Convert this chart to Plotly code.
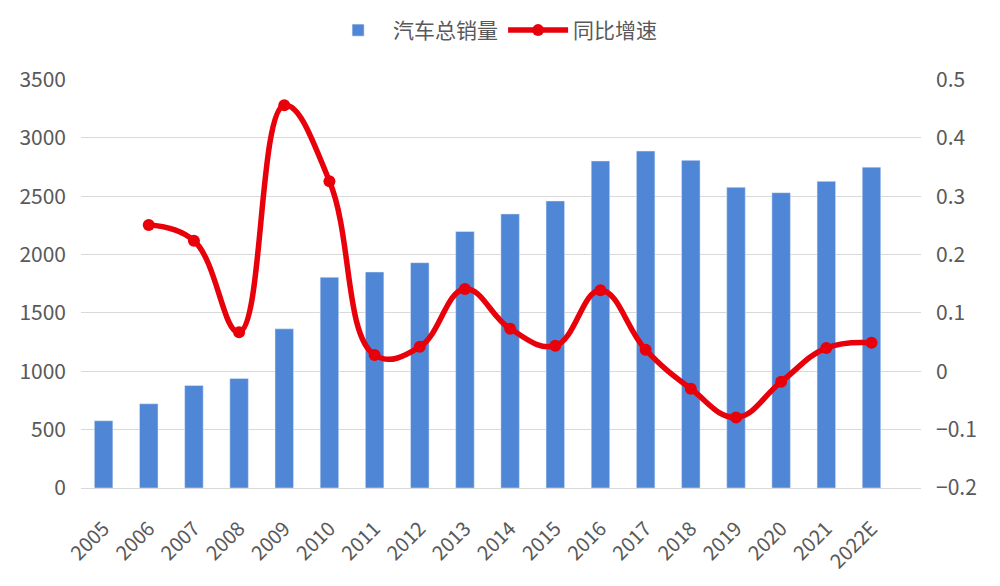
import plotly.graph_objects as go

years = ["2005", "2006", "2007", "2008", "2009", "2010", "2011", "2012", "2013",
         "2014", "2015", "2016", "2017", "2018", "2019", "2020", "2021", "2022E"]
sales = [576, 722, 879, 938, 1364, 1806, 1851, 1931, 2198, 2349, 2460, 2803, 2888,
         2808, 2577, 2531, 2628, 2750]
growth_years = years[1:]
growth = [0.251, 0.224, 0.067, 0.456, 0.326, 0.028, 0.042, 0.141, 0.073, 0.044,
          0.139, 0.037, -0.030, -0.079, -0.018, 0.040, 0.049]

font_family = "Noto Sans CJK SC, Open Sans, sans-serif"
grey = "#595959"

fig = go.Figure()
fig.add_trace(go.Bar(x=years, y=sales, name="汽车总销量", marker_color="#4F87D6",
                     width=0.41))
fig.add_trace(go.Scatter(x=growth_years, y=growth, name="同比增速", yaxis="y2",
                         mode="lines+markers",
                         line=dict(color="#E8000B", width=5.5, shape="spline", smoothing=1.2),
                         marker=dict(size=12, color="#E8000B")))

fig.update_layout(
    width=1000, height=586,
    margin=dict(l=81, r=79, t=78, b=97),
    paper_bgcolor="white", plot_bgcolor="white",
    font=dict(family=font_family, color=grey, size=21),
    legend=dict(orientation="h", x=0.49, xanchor="center", y=0.948, yanchor="middle",
                yref="container", font=dict(size=21, color=grey), itemwidth=60,
                traceorder="normal"),
    xaxis=dict(type="category", tickangle=-45, showgrid=False, showline=True,
               linecolor="#D9D9D9", linewidth=1, ticks="", tickfont=dict(size=20, color=grey),
               ticklabelstandoff=20),
    yaxis=dict(range=[0, 3500], dtick=500, showgrid=True, gridcolor="#D9D9D9", gridwidth=1,
               zeroline=False, showline=False, ticks="", tickfont=dict(size=21, color=grey),
               ticklabelstandoff=14),
    yaxis2=dict(range=[-0.2, 0.5], dtick=0.1, overlaying="y", side="right", showgrid=False,
                zeroline=False, showline=False, ticks="", tickfont=dict(size=21, color=grey),
                ticklabelstandoff=14),
)
fig.write_html("out.html")
